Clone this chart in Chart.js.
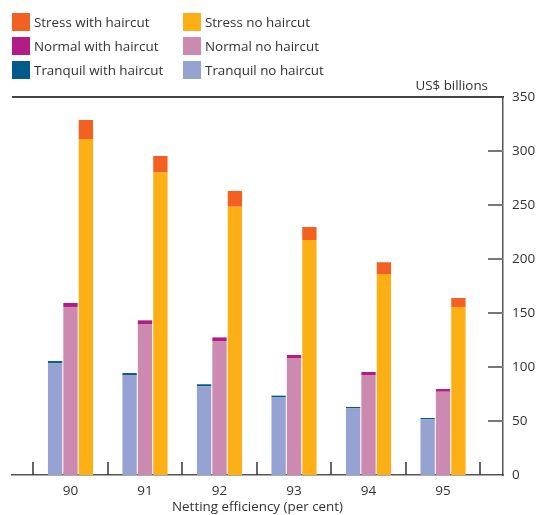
<!DOCTYPE html>
<html>
<head>
<meta charset="utf-8">
<script src="https://cdn.jsdelivr.net/npm/chart.js@4"></script>
<style>
  body { margin: 0; background: #fff; font-family: "Open Sans", sans-serif; }
  #wrap { position: relative; width: 539px; height: 515px; }
  #legend { position: absolute; left: 12px; top: 13px; width: 360px; }
  .item { position: absolute; height: 18px; font-size: 13.4px; color: #333; line-height: 18px; white-space: nowrap; }
  .box { display: inline-block; width: 18px; height: 18px; vertical-align: top; margin-right: 4px; }
  #unit { position: absolute; right: 51px; top: 76px; font-size: 13.4px; color: #333; }
</style>
</head>
<body>
<div id="wrap">
  <canvas id="chart" width="539" height="515"></canvas>
  <div id="legend"></div>
  <div id="unit">US$ billions</div>
</div>
<script>
const categories = [90, 91, 92, 93, 94, 95];

const tranquilNoHaircut = [103.4, 92.6, 82.1, 72.2, 61.7, 51.5];
const tranquilWithHaircut = [2.1, 1.8, 1.9, 1.3, 1.3, 1.3];
const normalNoHaircut = [155.6, 139.8, 124.0, 108.3, 92.6, 77.1];
const normalWithHaircut = [3.7, 3.4, 3.4, 2.8, 2.8, 2.5];
const stressNoHaircut = [311.0, 280.3, 248.4, 217.6, 186.0, 155.6];
const stressWithHaircut = [17.7, 15.1, 14.6, 12.0, 11.0, 8.3];

const yTicks = [0, 50, 100, 150, 200, 250, 300, 350];

const textColor = '#333';
const lineColor = '#555';

const datasets = [
    { label: 'Tranquil no haircut', data: tranquilNoHaircut, stack: 'tranquil', backgroundColor: '#95a2d2' },
    { label: 'Tranquil with haircut', data: tranquilWithHaircut, stack: 'tranquil', backgroundColor: '#005a8c' },
    { label: 'Normal no haircut', data: normalNoHaircut, stack: 'normal', backgroundColor: '#cd8ab0' },
    { label: 'Normal with haircut', data: normalWithHaircut, stack: 'normal', backgroundColor: '#b11c86' },
    { label: 'Stress no haircut', data: stressNoHaircut, stack: 'stress', backgroundColor: '#fdb016' },
    { label: 'Stress with haircut', data: stressWithHaircut, stack: 'stress', backgroundColor: '#f26122' }
];

// legend laid out in two columns, like the original
const legendOrder = [
    ['Stress with haircut', 'Stress no haircut'],
    ['Normal with haircut', 'Normal no haircut'],
    ['Tranquil with haircut', 'Tranquil no haircut']
];
const legendEl = document.getElementById('legend');
legendOrder.forEach((row, r) => {
    row.forEach((name, c) => {
        const ds = datasets.find(d => d.label === name);
        const div = document.createElement('div');
        div.className = 'item';
        div.style.left = (c * 171) + 'px';
        div.style.top = (r * 24) + 'px';
        div.innerHTML = '<span class="box" style="background:' + ds.backgroundColor + '"></span>' + name;
        legendEl.appendChild(div);
    });
});

// frame line on top, inner ticks on both axes
const framePlugin = {
    id: 'frame',
    afterDraw(chart) {
        const ctx = chart.ctx;
        const area = chart.chartArea;
        const x = chart.scales.x;
        const y = chart.scales.y;
        ctx.save();
        ctx.strokeStyle = '#444';
        ctx.lineWidth = 2;
        ctx.beginPath();
        ctx.moveTo(area.left, area.top);
        ctx.lineTo(area.right + 1, area.top);
        ctx.stroke();

        ctx.strokeStyle = '#777';
        ctx.lineWidth = 2;
        yTicks.slice(1, -1).forEach(v => {
            const py = Math.round(y.getPixelForValue(v));
            ctx.beginPath();
            ctx.moveTo(area.right - 15, py);
            ctx.lineTo(area.right, py);
            ctx.stroke();
        });

        ctx.strokeStyle = '#333';
        ctx.lineWidth = 1.5;
        categories.concat([categories[categories.length - 1] + 1]).forEach(v => {
            const px = Math.round(x.getPixelForValue(v - 0.5));
            ctx.beginPath();
            ctx.moveTo(px, area.bottom);
            ctx.lineTo(px, area.bottom - 13);
            ctx.stroke();
        });
        ctx.restore();
    }
};

new Chart(document.getElementById('chart').getContext('2d'), {
    type: 'bar',
    data: {
        labels: categories,
        datasets: datasets
    },
    options: {
        responsive: false,
        animation: false,
        layout: { padding: { left: 12, top: 97, right: 0, bottom: 0 } },
        datasets: {
            bar: { categoryPercentage: 0.62, barPercentage: 0.93 }
        },
        plugins: {
            legend: { display: false },
            tooltip: { enabled: false }
        },
        scales: {
            x: {
                type: 'linear',
                offset: false,
                min: 89.215,
                max: 95.805,
                stacked: true,
                afterBuildTicks: scale => { scale.ticks = categories.map(v => ({ value: v })); },
                afterFit: scale => { scale.height = 40; },
                grid: { display: false },
                border: { display: true, color: lineColor, width: 1.5 },
                ticks: {
                    color: textColor,
                    font: { family: 'Open Sans', size: 13.5 },
                    padding: 0,
                    callback: v => String(v)
                },
                title: {
                    display: true,
                    text: 'Netting efficiency (per cent)',
                    color: textColor,
                    font: { family: 'Open Sans', size: 13.4 },
                    padding: { top: 0, bottom: 0 }
                }
            },
            y: {
                position: 'right',
                stacked: true,
                min: 0,
                max: 350,
                afterBuildTicks: scale => { scale.ticks = yTicks.map(v => ({ value: v })); },
                afterFit: scale => { scale.width = 36; },
                grid: { display: false },
                border: { display: true, color: lineColor, width: 1.5 },
                ticks: {
                    color: textColor,
                    font: { family: 'Open Sans', size: 13.5 },
                    padding: 1
                }
            }
        }
    },
    plugins: [framePlugin]
});
</script>
</body>
</html>
